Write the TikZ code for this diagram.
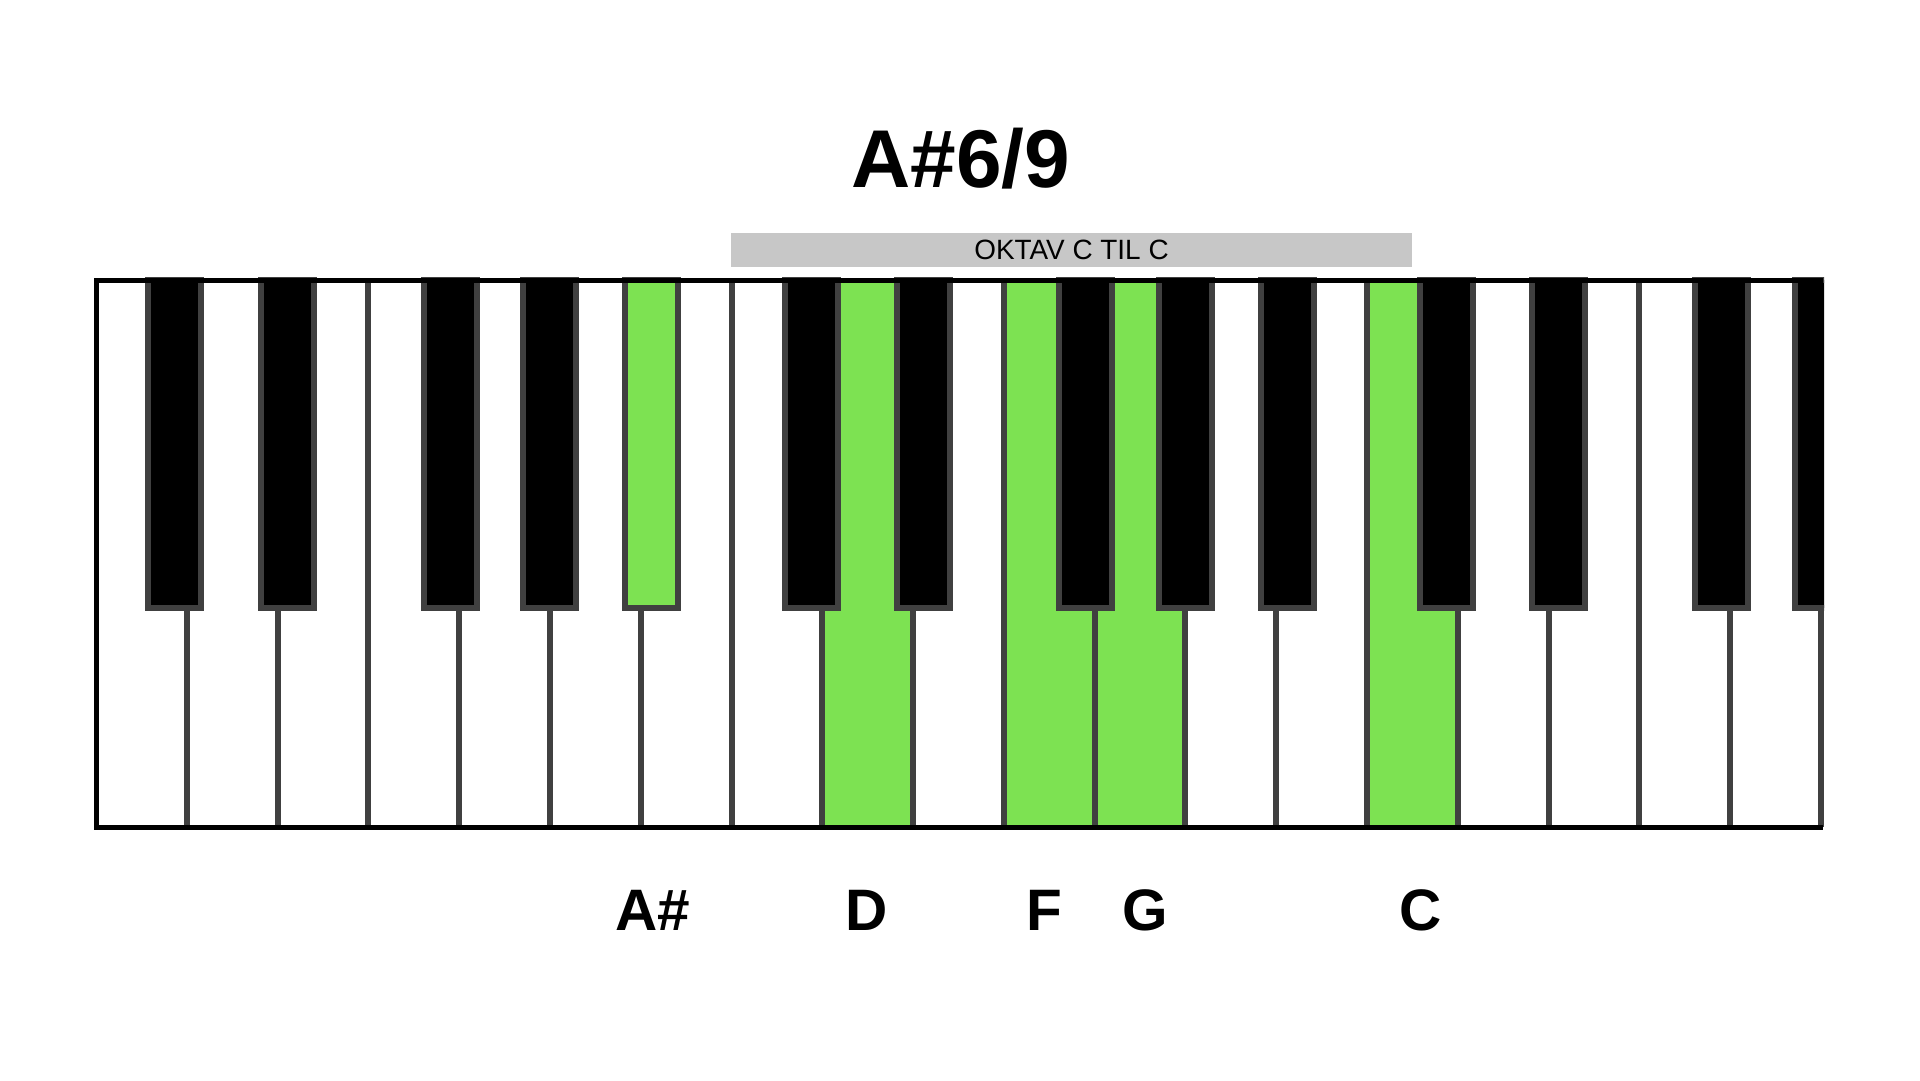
\documentclass[tikz,border=0pt]{standalone}
\usepackage{fontspec}
\setmainfont{Liberation Sans}
\definecolor{keygreen}{RGB}{125,226,82}
\definecolor{keyedge}{RGB}{64,64,64}
\definecolor{barfill}{RGB}{199,199,199}
\tikzset{
  keyline/.style={draw=keyedge,line width=6pt},
  blackkey/.style={keyline,fill=black},
  greenkey/.style={keyline,fill=keygreen},
  notename/.style={anchor=base,font=\bfseries\fontsize{58.5}{60}\selectfont},
}
\begin{document}
\begin{tikzpicture}[x=1pt,y=-1pt]
\useasboundingbox (0,0) rectangle (1920,1080);
\node(title)[anchor=base,font=\bfseries\fontsize{82}{84}\selectfont] at (961,187){A\#6/9};
\node(octave)[rectangle,fill=barfill,minimum width=681pt,minimum height=34pt,inner sep=0pt,font=\fontsize{27.9}{30}\selectfont] at (1071.5,250){OKTAV C TIL C};
% white keys
\path[fill=white] (96,280) rectangle (1821,827);
\path[fill=keygreen] (822.3,280) rectangle (913.1,827);
\path[fill=keygreen] (1003.9,280) rectangle (1094.7,827);
\path[fill=keygreen] (1094.7,280) rectangle (1185.5,827);
\path[fill=keygreen] (1367.1,280) rectangle (1457.9,827);
\foreach \i in {1,...,19}
  \path[keyline] (96+90.79*\i,280) -- (96+90.79*\i,827);
% black keys
\begin{scope}
\clip (93,277) rectangle (1824,830);
\foreach \c in {174,287,450,549,811,923,1085,1185,1287,1446,1558,1721,1821}
  \path[blackkey] (\c-26.5,280) rectangle (\c+26.5,608);
\path[greenkey] (624.5,280) rectangle (677.5,608);
\end{scope}
\path[draw,line width=5pt] (1823,280) -- (96,280) -- (96,827) -- (1823,827);
% note names
\node(as)[notename] at (653,930){A\#};
\node(d)[notename] at (866.7,930){D};
\node(f)[notename] at (1044,930){F};
\node(g)[notename] at (1145,930){G};
\node(c)[notename] at (1421,930){C};
\end{tikzpicture}
\end{document}
